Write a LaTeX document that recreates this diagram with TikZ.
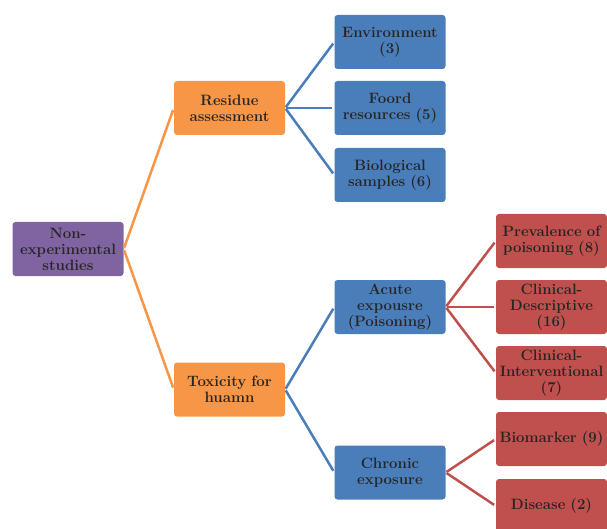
\documentclass[tikz,border=0pt]{standalone}
\usepackage{xcolor}
\usetikzlibrary{positioning}
\definecolor{rootpurple}{HTML}{8064A2}
\definecolor{midorange}{HTML}{F79646}
\definecolor{leafblue}{HTML}{4A7EBB}
\definecolor{leafred}{HTML}{C0504D}
\definecolor{textdark}{HTML}{262626}

\begin{document}
\begin{tikzpicture}[x=1pt, y=-1pt,
  box/.style={rounded corners=3pt, minimum width=111pt, minimum height=54pt,
    text width=109pt, align=center, inner sep=1pt, text=textdark,
    font=\bfseries\fontsize{15}{16}\selectfont},
  link/.style={line width=2.5pt, shorten <=1pt, shorten >=2pt}]
\useasboundingbox (0,0) rectangle (607,529);

\node[box, fill=rootpurple] (root) at (68,249) {Non-\\experimental\\studies};

\node[box, fill=midorange] (residue) at (229.5,108) {Residue\\assessment};
\node[box, fill=midorange] (toxicity) at (229.5,389.5) {Toxicity for\\huamn};

\node[box, fill=leafblue] (env) at (390,42) {Environment\\(3)};
\node[box, fill=leafblue] (food) at (390,108) {Foord\\resources (5)};
\node[box, fill=leafblue] (bio) at (390,175) {Biological\\samples (6)};
\node[box, fill=leafblue] (acute) at (390,307) {Acute\\expousre\\(Poisoning)};
\node[box, fill=leafblue] (chronic) at (390,472.5) {Chronic\\exposure};

\node[box, fill=leafred] (prev) at (551.5,241) {Prevalence of\\poisoning (8)};
\node[box, fill=leafred] (descr) at (551.5,307) {Clinical-\\Descriptive\\(16)};
\node[box, fill=leafred] (interv) at (551.5,373) {Clinical-\\Interventional\\(7)};
\node[box, fill=leafred] (biomark) at (551.5,439) {Biomarker (9)};
\node[box, fill=leafred] (disease) at (551.5,506) {Disease (2)};

% connectors
\draw[link, midorange] (root.east) -- (residue.west);
\draw[link, midorange] (root.east) -- (toxicity.west);
\foreach \leaf in {env, food, bio}
  \draw[link, leafblue] (residue.east) -- (\leaf.west);
\foreach \leaf in {acute, chronic}
  \draw[link, leafblue] (toxicity.east) -- (\leaf.west);
\foreach \leaf in {prev, descr, interv}
  \draw[link, leafred] (acute.east) -- (\leaf.west);
\foreach \leaf in {biomark, disease}
  \draw[link, leafred] (chronic.east) -- (\leaf.west);
\end{tikzpicture}
\end{document}
